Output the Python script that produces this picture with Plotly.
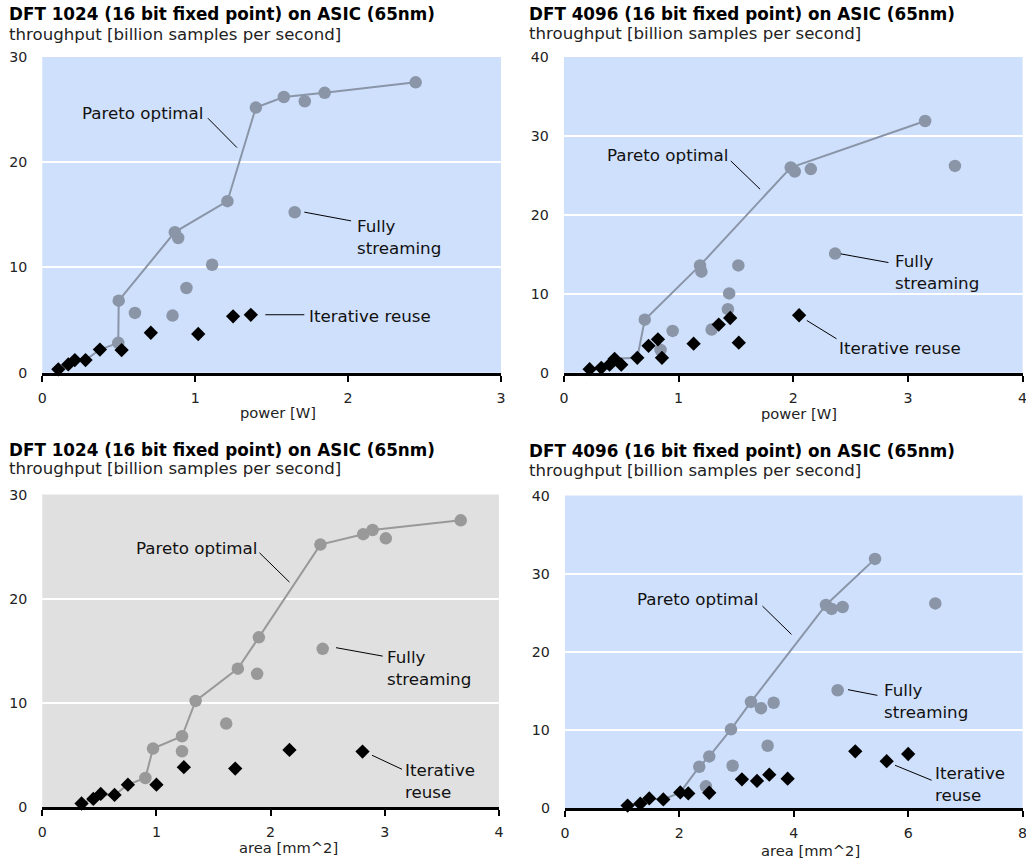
import plotly.graph_objects as go

# The picture of the page maps figure pixels to picture pixels roughly as
#   picture = C + K * figure   (measured from earlier renders)
KX, CX = 0.991, 3.7
KY, CY = 0.9827, 7.9
FW, FH = 1034, 872

# ---------------- data ----------------
# Panel 1: DFT 1024, power
p1_pareto_x = [0.105, 0.17, 0.213, 0.283, 0.377, 0.497, 0.50, 0.867, 1.211, 1.397, 1.58, 1.847, 2.442]
p1_pareto_y = [0.32, 0.79, 1.2, 1.2, 2.2, 2.84, 6.85, 13.36, 16.3, 25.2, 26.2, 26.6, 27.6]
p1_stream_x = [0.497, 0.50, 0.606, 0.852, 0.867, 0.889, 0.943, 1.111, 1.211, 1.397, 1.58, 1.651, 1.717, 1.847, 2.442]
p1_stream_y = [2.84, 6.85, 5.68, 5.43, 13.36, 12.8, 8.05, 10.26, 16.3, 25.2, 26.2, 15.25, 25.8, 26.6, 27.6]
p1_iter_x = [0.105, 0.17, 0.213, 0.283, 0.377, 0.519, 0.71, 1.02, 1.248, 1.364]
p1_iter_y = [0.32, 0.79, 1.2, 1.2, 2.2, 2.15, 3.8, 3.68, 5.36, 5.5]

# Panel 2: DFT 4096, power
p2_pareto_x = [0.224, 0.326, 0.398, 0.442, 0.64, 0.705, 1.187, 1.978, 3.15]
p2_pareto_y = [0.45, 0.62, 1.02, 1.76, 1.89, 6.72, 13.6, 26.0, 31.9]
p2_stream_x = [0.705, 0.843, 0.948, 1.187, 1.199, 1.288, 1.43, 1.441, 1.521, 1.978, 2.013, 2.153, 2.365, 3.15, 3.41]
p2_stream_y = [6.72, 2.89, 5.3, 13.6, 12.8, 5.47, 8.05, 10.05, 13.6, 26.0, 25.5, 25.8, 15.1, 31.9, 26.2]
p2_iter_x = [0.224, 0.326, 0.398, 0.442, 0.5, 0.64, 0.738, 0.82, 0.855, 1.131, 1.35, 1.45, 1.525, 2.051]
p2_iter_y = [0.45, 0.62, 1.02, 1.76, 1.02, 1.89, 3.41, 4.23, 1.89, 3.68, 6.1, 6.93, 3.8, 7.28]

# Panel 3: DFT 1024, area
p3_pareto_x = [0.344, 0.447, 0.512, 0.633, 0.75, 0.903, 0.97, 1.224, 1.343, 1.713, 1.897, 2.436, 2.811, 2.893, 3.665]
p3_pareto_y = [0.36, 0.8, 1.28, 1.18, 2.17, 2.81, 5.63, 6.81, 10.2, 13.3, 16.3, 25.2, 26.2, 26.6, 27.53]
p3_stream_x = [0.903, 0.97, 1.224, 1.224, 1.343, 1.611, 1.713, 1.882, 1.897, 2.436, 2.456, 2.811, 2.893, 3.009, 3.665]
p3_stream_y = [2.81, 5.63, 6.81, 5.37, 10.2, 8.03, 13.3, 12.8, 16.3, 25.2, 15.2, 26.2, 26.6, 25.8, 27.53]
p3_iter_x = [0.344, 0.447, 0.512, 0.633, 0.75, 1.0, 1.24, 1.69, 2.165, 2.805]
p3_iter_y = [0.36, 0.8, 1.28, 1.18, 2.17, 2.17, 3.84, 3.71, 5.5, 5.34]

# Panel 4: DFT 4096, area
p4_pareto_x = [1.096, 1.317, 1.474, 1.72, 2.016, 2.348, 2.523, 2.902, 3.252, 4.563, 5.42]
p4_pareto_y = [0.34, 0.59, 1.26, 1.13, 2.02, 5.31, 6.63, 10.1, 13.6, 26.0, 31.9]
p4_stream_x = [2.348, 2.465, 2.523, 2.902, 2.931, 3.252, 3.427, 3.543, 3.648, 4.563, 4.662, 4.767, 4.854, 5.42, 6.474]
p4_stream_y = [5.31, 2.8, 6.63, 10.1, 5.44, 13.6, 12.8, 8.0, 13.5, 26.0, 25.5, 15.1, 25.75, 31.9, 26.2]
p4_iter_x = [1.096, 1.317, 1.474, 1.72, 2.016, 2.156, 2.523, 3.094, 3.357, 3.572, 3.893, 5.075, 5.624, 6.0]
p4_iter_y = [0.34, 0.59, 1.26, 1.13, 2.02, 1.89, 1.98, 3.7, 3.49, 4.29, 3.78, 7.28, 6.02, 6.94]

titles = ["DFT 1024 (16 bit fixed point) on ASIC (65nm)",
          "DFT 4096 (16 bit fixed point) on ASIC (65nm)",
          "DFT 1024 (16 bit fixed point) on ASIC (65nm)",
          "DFT 4096 (16 bit fixed point) on ASIC (65nm)"]
subtitle = "throughput [billion samples per second]"
xtitles = ["power [W]", "power [W]", "area [mm^2]", "area [mm^2]"]
label_pareto = "Pareto optimal"
label_stream = "Fully<br>streaming"
label_iter = ["Iterative reuse", "Iterative reuse", "Iterative<br>reuse", "Iterative<br>reuse"]

FONT = "DejaVu Sans, Verdana, sans-serif"
BLUE_BG = "#cfe0fc"
GREY_BG = "#e0e0e0"

def px2x(p):
    return min(1.0, max(0.0, ((p - CX) / KX) / FW))

def px2y(p):
    return min(1.0, max(0.0, 1 - ((p - CY) / KY) / FH))

panels = [
    dict(pareto=(p1_pareto_x, p1_pareto_y), stream=(p1_stream_x, p1_stream_y), it=(p1_iter_x, p1_iter_y),
         box=(41, 500, 57, 373), xr=[0, 3], yr=[0, 30], dx=1, bg=BLUE_BG, mc="#8a95a8",
         title_pos=(10, 14, 34), xtitle_pos=(277, 413),
         ann=dict(par=(0.275, 24.7), par_l=(1.083, 24.19, 1.273, 21.4),
                  st=(2.074, 12.89), st_l=(1.714, 15.26, 2.02, 14.43),
                  it=(1.758, 5.41), it_l=(1.459, 5.51, 1.714, 5.51))),
    dict(pareto=(p2_pareto_x, p2_pareto_y), stream=(p2_stream_x, p2_stream_y), it=(p2_iter_x, p2_iter_y),
         box=(563, 1022, 57, 373), xr=[0, 4], yr=[0, 40], dx=1, bg=BLUE_BG, mc="#8a95a8",
         title_pos=(530, 14, 33), xtitle_pos=(798, 414),
         ann=dict(par=(0.391, 27.6), par_l=(1.455, 26.84, 1.711, 23.25),
                  st=(2.902, 12.75), st_l=(2.414, 15.06, 2.83, 13.96),
                  it=(2.414, 3.13), it_l=(2.118, 6.62, 2.377, 4.3))),
    dict(pareto=(p3_pareto_x, p3_pareto_y), stream=(p3_stream_x, p3_stream_y), it=(p3_iter_x, p3_iter_y),
         box=(41, 498, 495, 808), xr=[0, 4], yr=[0, 30], dx=1, bg=GREY_BG, mc="#999999",
         title_pos=(10, 450, 469), xtitle_pos=(287, 848),
         ann=dict(par=(0.838, 24.9), par_l=(1.902, 24.42, 2.165, 21.6),
                  st=(3.034, 13.39), st_l=(2.573, 15.31, 2.982, 14.5),
                  it=(3.192, 2.52), it_l=(2.888, 4.99, 3.151, 3.64))),
    dict(pareto=(p4_pareto_x, p4_pareto_y), stream=(p4_stream_x, p4_stream_y), it=(p4_iter_x, p4_iter_y),
         box=(564, 1022, 496, 809), xr=[0, 8], yr=[0, 40], dx=2, bg=BLUE_BG, mc="#8a95a8",
         title_pos=(530, 451, 471), xtitle_pos=(810, 851),
         ann=dict(par=(1.298, 26.71), par_l=(3.453, 25.86, 3.96, 22.24),
                  st=(5.607, 13.77), st_l=(4.948, 15.17, 5.462, 14.44),
                  it=(6.51, 3.13), it_l=(5.77, 5.5, 6.41, 3.58))),
]

fig = go.Figure()
annotations = []
shapes = []
layout = {}

for i, p in enumerate(panels):
    n = "" if i == 0 else str(i + 1)
    xa, ya = "x" + n, "y" + n
    x0, x1, y0, y1 = p["box"]
    mc = p["mc"]
    fig.add_trace(go.Scatter(x=p["pareto"][0], y=p["pareto"][1], mode="lines",
                             line=dict(color=mc, width=2), xaxis=xa, yaxis=ya,
                             showlegend=False, hoverinfo="skip"))
    fig.add_trace(go.Scatter(x=p["stream"][0], y=p["stream"][1], mode="markers",
                             marker=dict(symbol="circle", size=12.5, color=mc),
                             xaxis=xa, yaxis=ya, showlegend=False, cliponaxis=False))
    fig.add_trace(go.Scatter(x=p["it"][0], y=p["it"][1], mode="markers",
                             marker=dict(symbol="diamond", size=11, color="black"),
                             xaxis=xa, yaxis=ya, showlegend=False, cliponaxis=False))

    layout["xaxis" + n] = dict(domain=[px2x(x0), px2x(x1)], range=p["xr"], anchor=ya,
                               dtick=p["dx"], tick0=0, showgrid=False, zeroline=False,
                               showline=True, linecolor="black", linewidth=3,
                               ticks="outside", ticklen=6, tickwidth=2, tickcolor="black",
                               ticklabelstandoff=4,
                               tickfont=dict(family=FONT, size=14.2, color="#222"))
    layout["yaxis" + n] = dict(domain=[px2y(y1), px2y(y0)], range=p["yr"], anchor=xa,
                               dtick=10, tick0=0, showgrid=True, gridcolor="white",
                               gridwidth=2, zeroline=False, showline=False, ticks="",
                               ticklabelstandoff=14,
                               tickfont=dict(family=FONT, size=14.2, color="#222"))
    shapes.append(dict(type="rect", xref="paper", yref="paper", layer="below",
                       x0=px2x(x0), x1=px2x(x1), y0=px2y(y1), y1=px2y(y0),
                       fillcolor=p["bg"], line=dict(width=0)))
    tx, ty1, ty2 = p["title_pos"]
    annotations.append(dict(text="<b>" + titles[i] + "</b>", xref="paper", yref="paper",
                            x=px2x(tx), y=px2y(ty1), xanchor="left", yanchor="middle",
                            xshift=-3, borderpad=0,
                            showarrow=False, font=dict(family=FONT, size=16.8, color="black")))
    annotations.append(dict(text=subtitle, xref="paper", yref="paper",
                            x=px2x(tx), y=px2y(ty2), xanchor="left", yanchor="middle",
                            xshift=-3, borderpad=0,
                            showarrow=False, font=dict(family=FONT, size=16.6, color="#222")))
    xt, yt = p["xtitle_pos"]
    annotations.append(dict(text=xtitles[i], xref="paper", yref="paper",
                            x=px2x(xt), y=px2y(yt), xanchor="center", yanchor="middle",
                            showarrow=False, font=dict(family=FONT, size=14.7, color="#222")))
    a = p["ann"]
    for key, txt in (("par", label_pareto), ("st", label_stream), ("it", label_iter[i])):
        annotations.append(dict(text=txt, xref=xa, yref=ya, x=a[key][0], y=a[key][1],
                                xanchor="left", yanchor="middle", align="left",
                                showarrow=False, xshift=-3, borderpad=0,
                                font=dict(family=FONT, size=16.7, color="#111")))
        lx0, ly0, lx1, ly1 = a[key + "_l"]
        shapes.append(dict(type="line", xref=xa, yref=ya, x0=lx0, y0=ly0, x1=lx1, y1=ly1,
                           line=dict(color="black", width=1)))

fig.update_layout(width=FW, height=FH, margin=dict(l=0, r=0, t=0, b=0),
                  paper_bgcolor="white", plot_bgcolor="rgba(0,0,0,0)",
                  annotations=annotations, shapes=shapes,
                  font=dict(family=FONT), **layout)

fig.write_html("out.html")
